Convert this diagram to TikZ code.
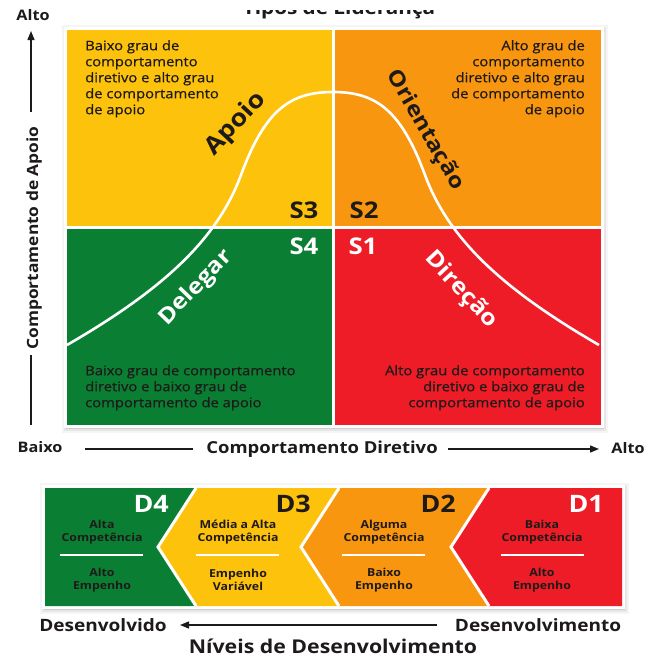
\documentclass[tikz,border=0pt]{standalone}
\usepackage{fontspec}
\setmainfont[FakeStretch=1.12]{Open Sans}
\newfontfamily\quadfont[FakeStretch=1.12, FakeBold=0.6]{Open Sans}
\usetikzlibrary{arrows.meta}

\definecolor{ink}{HTML}{1E1A1A}
\definecolor{qyellow}{HTML}{FDC20C}
\definecolor{qorange}{HTML}{F8960F}
\definecolor{qgreen}{HTML}{0A7F33}
\definecolor{qred}{HTML}{EE1C26}

\tikzset{
  qtext/.style={font=\quadfont\fontsize{13.2}{16}\selectfont, text=ink, inner sep=0pt},
  slabel/.style={font=\fontsize{23}{23}\selectfont\bfseries, inner sep=0pt},
  stylename/.style={font=\fontsize{22}{22}\selectfont\bfseries, inner sep=0pt},
  axislabel/.style={font=\fontsize{14.5}{14.5}\selectfont\bfseries, text=ink, inner sep=0pt},
  axisline/.style={draw=ink, line width=1.4pt},
  axisarrow/.style={axisline, -{Triangle[length=9pt,width=7pt]}},
  dlabel/.style={font=\fontsize{24}{24}\selectfont\bfseries, inner sep=0pt},
  dtext/.style={font=\fontsize{11}{13}\selectfont\bfseries, text=ink, inner sep=0pt, align=center},
  sepline/.style={draw=white, line width=1.6pt},
  divider/.style={draw=white, line width=3pt},
  bell/.style={draw=white, line width=2.6pt},
}

\begin{document}
\begin{tikzpicture}[x=1pt,y=-1pt]
\useasboundingbox (0,0) rectangle (648,657);
\fill[white] (0,0) rectangle (648,657);

% heading, of which only the lowest strip shows
\node[font=\fontsize{18.5}{18.5}\selectfont\bfseries, text=ink, anchor=base, inner sep=0pt] (heading) at (339,14.5) {Tipos de Liderança};
\fill[white] (150,0) rectangle (520,10);

% soft shadow behind the quadrant chart
\foreach \d/\o in {6/0.04,4/0.06,2/0.10}{
  \fill[black, opacity=\o] (67-\d+1,30-\d+1) rectangle (601+\d+1,425+\d+2);
}
\fill[white] (64,27) rectangle (604,428);

% quadrants
\fill[qyellow] (67,30) rectangle (333,227);
\fill[qorange] (333,30) rectangle (601,227);
\fill[qgreen]  (67,227) rectangle (333,425);
\fill[qred]    (333,227) rectangle (601,425);

% bell curve of the leadership styles
\begin{scope}
  \clip (67,30) rectangle (601,425);
  \draw[bell] (67,345) .. controls (162,290) and (217,240) .. (241,175)
                     .. controls (265,110) and (290,92) .. (333,92)
                     .. controls (376,92) and (401,110) .. (425,175)
                     .. controls (449,240) and (504,290) .. (599,345);
\end{scope}

\draw[divider] (333,30) -- (333,425);
\draw[divider] (67,227) -- (601,227);

% quadrant descriptions
\node[qtext, anchor=north west, align=left] (dtl) at (85,40)
  {Baixo grau de\\comportamento\\diretivo e alto grau\\de comportamento\\de apoio};
\node[qtext, anchor=north east, align=right] (dtr) at (585,40)
  {Alto grau de\\comportamento\\diretivo e alto grau\\de comportamento\\de apoio};
\node[qtext, anchor=north west, align=left] (dbl) at (85,365)
  {Baixo grau de comportamento\\diretivo e baixo grau de\\comportamento de apoio};
\node[qtext, anchor=north east, align=right] (dbr) at (585,365)
  {Alto grau de comportamento\\diretivo e baixo grau de\\comportamento de apoio};

% style codes
\node[slabel, text=ink]   (s3) at (304,210) {S3};
\node[slabel, text=ink]   (s2) at (364,210) {S2};
\node[slabel, text=white] (s4) at (304,246) {S4};
\node[slabel, text=white] (s1) at (363,246) {S1};

% style names along the curve
\node[stylename, text=ink,   rotate=47, font=\fontsize{24}{24}\selectfont\bfseries]  (apoio)  at (236,124) {Apoio};
\node[stylename, text=ink,   rotate=-60, font=\fontsize{21.5}{21.5}\selectfont\bfseries] (orient) at (425,130) {Orientação};
\node[stylename, text=white, rotate=46]  (deleg)  at (196,288) {Delegar};
\node[stylename, text=white, rotate=-47, font=\fontsize{22.5}{22.5}\selectfont\bfseries] (direc)  at (461,290) {Direção};

% vertical axis
\node[axislabel] (vhigh) at (33,15) {Alto};
\node[axislabel, rotate=90, font=\fontsize{15.5}{15.5}\selectfont\bfseries] (vlabel) at (34,238) {Comportamento de Apoio};
\coordinate (vtop) at (31,31);
\coordinate (vstart) at (31,112);
\coordinate (vend) at (31,355);
\coordinate (vbottom) at (31,425);
\draw[axisarrow] (vstart) -- (vtop);
\draw[axisline] (vend) -- (vbottom);

% horizontal axis
\node[axislabel] (hlow) at (40,447) {Baixo};
\node[axislabel, font=\fontsize{16.5}{16.5}\selectfont\bfseries] (hlabel) at (322,449) {Comportamento Diretivo};
\node[axislabel] (hhigh) at (628,448) {Alto};
\coordinate (h1) at (85,449);
\coordinate (h2) at (193,449);
\coordinate (h3) at (448,449);
\coordinate (h4) at (599,449);
\draw[axisline] (h1) -- (h2);
\draw[axisarrow] (h3) -- (h4);

% development levels bar
\foreach \d/\o in {6/0.04,4/0.06,2/0.10}{
  \fill[black, opacity=\o] (45-\d+1,488-\d+1) rectangle (622+\d+1,606+\d+2);
}
\fill[white] (42,485) rectangle (625,609);

\fill[qgreen]  (45,488) -- (196,488) -- (158,547) -- (196,606) -- (45,606) -- cycle;
\fill[qyellow] (196,488) -- (339,488) -- (301,547) -- (339,606) -- (196,606) -- (158,547) -- cycle;
\fill[qorange] (339,488) -- (489,488) -- (451,547) -- (489,606) -- (339,606) -- (301,547) -- cycle;
\fill[qred]    (489,488) -- (622,488) -- (622,606) -- (489,606) -- (451,547) -- cycle;
\draw[divider, line join=miter] (196,488) -- (158,547) -- (196,606);
\draw[divider, line join=miter] (339,488) -- (301,547) -- (339,606);
\draw[divider, line join=miter] (489,488) -- (451,547) -- (489,606);

\node[dlabel, text=white, anchor=east] (d4) at (169,504) {D4};
\node[dlabel, text=ink,   anchor=east] (d3) at (311,504) {D3};
\node[dlabel, text=ink,   anchor=east] (d2) at (456,504) {D2};
\node[dlabel, text=white, anchor=east] (d1) at (604,504) {D1};

\node[dtext] (c4) at (102,532) {Alta\\Competência};
\node[dtext] (c3) at (238,532) {Média a Alta\\Competência};
\node[dtext] (c2) at (384,532) {Alguma\\Competência};
\node[dtext] (c1) at (542,532) {Baixa\\Competência};
\draw[sepline] (60,555) -- (143,555);
\draw[sepline] (196,555) -- (279,555);
\draw[sepline] (342,555) -- (425,555);
\draw[sepline] (501,555) -- (584,555);
\node[dtext] (e4) at (102,580) {Alto\\Empenho};
\node[dtext] (e3) at (238,580) {Empenho\\Variável};
\node[dtext] (e2) at (384,580) {Baixo\\Empenho};
\node[dtext] (e1) at (542,580) {Alto\\Empenho};

% development axis
\node[axislabel, font=\fontsize{17}{17}\selectfont\bfseries] (dev1) at (103,625) {Desenvolvido};
\node[axislabel, font=\fontsize{17}{17}\selectfont\bfseries] (dev2) at (538,625) {Desenvolvimento};
\node[axislabel, font=\fontsize{19}{19}\selectfont\bfseries] (devtitle) at (333,646) {Níveis de Desenvolvimento};
\coordinate (a1) at (437,625);
\coordinate (a2) at (180,625);
\draw[axisarrow] (a1) -- (a2);
\end{tikzpicture}
\end{document}
